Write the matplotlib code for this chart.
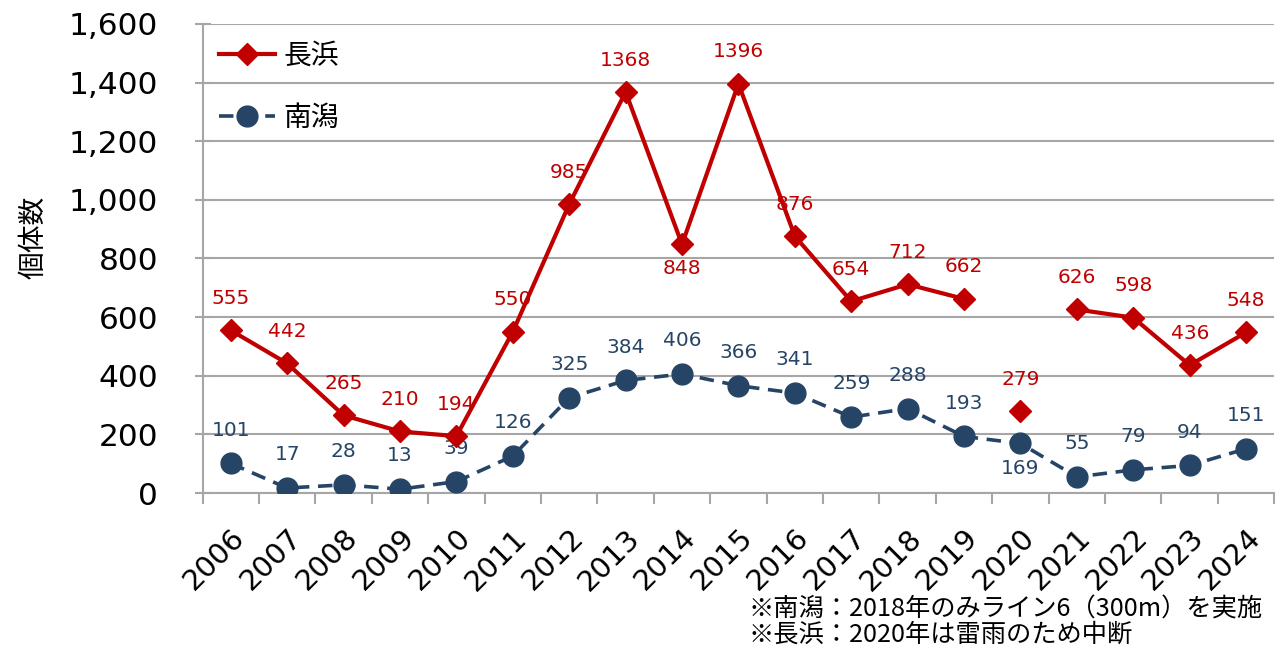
import matplotlib
matplotlib.use('Agg')
import matplotlib.pyplot as plt
from matplotlib.transforms import ScaledTranslation
import numpy as np

plt.rcParams['font.family'] = ['DejaVu Sans', 'Noto Sans CJK JP']
JP = ['Noto Sans CJK JP', 'DejaVu Sans']

years = [str(y) for y in range(2006, 2025)]
nagahama = [555, 442, 265, 210, 194, 550, 985, 1368, 848, 1396, 876, 654, 712, 662,
            279, 626, 598, 436, 548]
minamigata = [101, 17, 28, 13, 39, 126, 325, 384, 406, 366, 341, 259, 288, 193,
              169, 55, 79, 94, 151]
interrupted_year = '2020'
below_labels_naga = ['2014']
below_labels_minami = ['2020']
notes = ['※南潟：2018年のみライン6（300m）を実施',
         '※長浜：2020年は雷雨のため中断']

RED = '#C00000'
NAVY = '#264466'
GRID = '#A6A6A6'

x = np.arange(len(years))
naga = np.array(nagahama, dtype=float)
naga_line = naga.copy()
gap = years.index(interrupted_year)
naga_line[gap] = np.nan

fig = plt.figure(figsize=(12.82, 6.47), dpi=100)
ax = fig.add_axes([0.158, 0.238, 0.836, 0.725])

ax.plot(x, minamigata, color=NAVY, linestyle=(0, (4.0, 2.4)), linewidth=2.6,
        marker='o', markersize=15, label='南潟', zorder=3)
ax.plot(x, naga_line, color=RED, linewidth=3, marker='D', markersize=11,
        label='長浜', zorder=4)
ax.plot(x[gap], naga[gap], color=RED, linestyle='none', marker='D', markersize=11,
        zorder=4)

for i, y in enumerate(years):
    off = -17 if y in below_labels_naga else 23
    ax.annotate(f'{nagahama[i]}', (x[i], nagahama[i]), xytext=(0, off),
                textcoords='offset points', ha='center', va='center',
                color=RED, fontsize=14.5)
    off = -18 if y in below_labels_minami else 24
    ax.annotate(f'{minamigata[i]}', (x[i], minamigata[i]), xytext=(0, off),
                textcoords='offset points', ha='center', va='center',
                color=NAVY, fontsize=14.5)

ax.set_xlim(-0.5, len(years) - 0.5)
ax.set_ylim(0, 1600)
ax.set_yticks(np.arange(0, 1601, 200))
ax.set_yticklabels([f'{v:,}' for v in range(0, 1601, 200)], fontsize=22.5)
ax.yaxis.grid(True, color=GRID, linewidth=1.5)
ax.set_axisbelow(True)

ax.set_xticks(x)
ax.set_xticklabels(years, rotation=45, ha='right', va='top',
                   rotation_mode='anchor', fontsize=21)
shift = ScaledTranslation(-3 / 72, 0, fig.dpi_scale_trans)
for lab in ax.get_xticklabels():
    lab.set_transform(lab.get_transform() + shift)
ax.set_xticks(np.arange(-0.5, len(years), 1), minor=True)
ax.tick_params(axis='x', which='major', length=0, pad=22)
ax.tick_params(axis='x', which='minor', length=8, color=GRID, width=1.5)
ax.tick_params(axis='y', length=12, direction='inout', color=GRID, width=1.5, pad=26)

for s in ['top', 'right']:
    ax.spines[s].set_visible(False)
for s in ['left', 'bottom']:
    ax.spines[s].set_color(GRID)
    ax.spines[s].set_linewidth(1.5)

ax.set_ylabel('個体数', fontsize=20, family=JP)
ax.yaxis.set_label_coords(-0.144, 0.544)

handles, labels = ax.get_legend_handles_labels()
leg = ax.legend(handles[::-1], labels[::-1], loc='upper left', frameon=False,
                prop={'family': JP, 'size': 20}, handlelength=2.0,
                labelspacing=1.15, handletextpad=0.3,
                bbox_to_anchor=(0.0, 1.0), borderaxespad=0.2)

fig.text(748 / 1282, 1 - 622 / 647, '\n'.join(notes), ha='left', va='center',
         fontsize=18.2, family=JP, linespacing=0.92)

fig.savefig('out.png', dpi=100)
